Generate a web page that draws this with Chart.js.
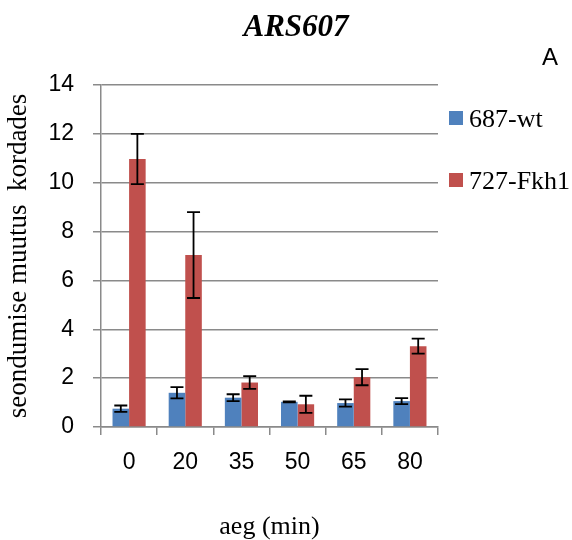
<!DOCTYPE html>
<html><head><meta charset="utf-8">
<script src="https://cdn.jsdelivr.net/npm/chart.js@4/dist/chart.umd.min.js"></script>
<style>html,body{margin:0;padding:0;background:#fff}#wrap{width:572px;height:540px}</style>
</head><body><div id="wrap"><canvas id="c" width="572" height="540"></canvas></div>
<script>
const categories = ['0', '20', '35', '50', '65', '80'];
const seriesNames = ['687-wt', '727-Fkh1'];
const wtValues = [0.75, 1.40, 1.20, 1.03, 0.98, 1.06];
const wtErrors = [0.13, 0.23, 0.14, 0.02, 0.15, 0.12];
const fkhValues = [10.97, 7.04, 1.82, 0.93, 2.04, 3.31];
const fkhErrors = [1.03, 1.76, 0.26, 0.35, 0.33, 0.31];
const yTicks = [0, 2, 4, 6, 8, 10, 12, 14];
const titleText = 'ARS607';
const panelLetter = 'A';
const xTitle = 'aeg (min)';
const yTitle = 'seondumise muutus  kordades';

const GRID = '#8a8a8a';

const errorBars = {
  id: 'errorBars',
  afterDatasetsDraw(chart) {
    const ctx = chart.ctx, y = chart.scales.y;
    chart.data.datasets.forEach((ds, di) => {
      const meta = chart.getDatasetMeta(di);
      meta.data.forEach((bar, i) => {
        const v = ds.data[i], e = ds.errors[i];
        const yt = y.getPixelForValue(v + e), yb = y.getPixelForValue(v - e);
        ctx.save();
        ctx.strokeStyle = '#000';
        ctx.lineWidth = 1.8;
        ctx.beginPath();
        ctx.moveTo(bar.x, yt); ctx.lineTo(bar.x, yb);
        ctx.moveTo(bar.x - 6.5, yt); ctx.lineTo(bar.x + 6.5, yt);
        ctx.moveTo(bar.x - 6.5, yb); ctx.lineTo(bar.x + 6.5, yb);
        ctx.stroke();
        ctx.restore();
      });
    });
  }
};

const sideLegend = {
  id: 'sideLegend',
  afterDraw(chart) {
    const { ctx, chartArea } = chart;
    chart.data.datasets.forEach((ds, i) => {
      const cy = chartArea.top + 33 + i * 62;
      const bx = chartArea.right + 11;
      ctx.save();
      ctx.fillStyle = ds.backgroundColor;
      ctx.fillRect(bx, cy - 7, 14, 14);
      ctx.fillStyle = '#000';
      ctx.font = '26px "Liberation Serif"';
      ctx.textBaseline = 'middle';
      ctx.textAlign = 'left';
      ctx.fillText(ds.label, bx + 20, cy + 2);
      ctx.restore();
    });
  }
};

new Chart(document.getElementById('c'), {
  type: 'bar',
  data: {
    labels: categories,
    datasets: [
      { label: seriesNames[0], data: wtValues, errors: wtErrors, backgroundColor: '#4F81BD', yAxisID: 'y' },
      { label: seriesNames[1], data: fkhValues, errors: fkhErrors, backgroundColor: '#C0504D', yAxisID: 'y' }
    ]
  },
  options: {
    responsive: false,
    animation: false,
    devicePixelRatio: 1,
    datasets: { bar: { categoryPercentage: 0.59, barPercentage: 1 } },
    layout: { padding: { left: 34, right: 14, top: 0, bottom: 0 } },
    plugins: {
      legend: { display: false },
      tooltip: { enabled: false },
      title: {
        display: true, text: titleText, color: '#000',
        font: { family: '"Liberation Serif"', size: 31, weight: 'bold', style: 'italic', lineHeight: 1 },
        padding: { top: 12.5, bottom: 0 }
      },
      subtitle: {
        display: true, text: panelLetter, align: 'end', color: '#000',
        font: { family: '"Liberation Sans"', size: 24, lineHeight: 1.2 },
        padding: { top: 0, bottom: 12.7 }
      }
    },
    scales: {
      x: {
        afterFit(s) { s.height = 113; },
        grid: { display: true, drawOnChartArea: false, drawTicks: true, tickLength: 8, offset: true, color: GRID, lineWidth: 1.5 },
        border: { display: true, color: GRID, width: 1.5 },
        ticks: { color: '#000', padding: 14, font: { family: '"Liberation Sans"', size: 23 } },
        title: { display: true, text: xTitle, color: '#000', font: { family: '"Liberation Serif"', size: 26, lineHeight: 1 }, padding: { top: 0, bottom: 0 } }
      },
      y: {
        min: 0, max: 14,
        afterFit(s) { s.width = 67; },
        afterBuildTicks(s) { s.ticks = yTicks.map(v => ({ value: v })); },
        grid: { color: GRID, lineWidth: 1.5, tickLength: 8, drawTicks: true },
        border: { display: true, color: GRID, width: 1.5 },
        ticks: { color: '#000', padding: 19, font: { family: '"Liberation Sans"', size: 23 } },
        title: { display: true, text: yTitle, color: '#000', font: { family: '"Liberation Serif"', size: 27, lineHeight: 1 }, padding: { top: -28.5, bottom: 0 } }
      },
      r: {
        type: 'linear', position: 'right', display: true,
        afterFit(s) { s.width = 120; },
        grid: { display: false, drawTicks: false },
        border: { display: false },
        ticks: { display: false }
      }
    }
  },
  plugins: [errorBars, sideLegend]
});
</script>
</body></html>
